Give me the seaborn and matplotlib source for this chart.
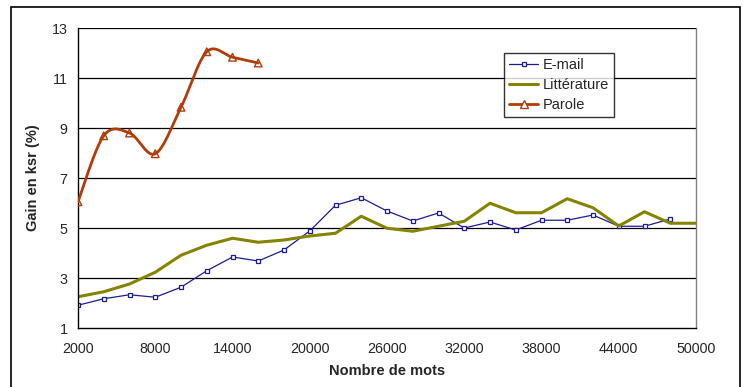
import numpy as np
import pandas as pd
import matplotlib
matplotlib.use("Agg")
import matplotlib.pyplot as plt
import seaborn as sns

# values
email_x = list(range(2000, 50000, 2000))
email_y = [1.91, 2.17, 2.33, 2.23, 2.63, 3.29, 3.84, 3.68, 4.12, 4.88, 5.91, 6.21,
           5.68, 5.28, 5.60, 5.00, 5.24, 4.92, 5.31, 5.31, 5.52, 5.07, 5.07, 5.36]

litt_x = list(range(2000, 52000, 2000))
litt_y = [2.25, 2.45, 2.76, 3.23, 3.91, 4.31, 4.59, 4.43, 4.52, 4.68, 4.79, 5.47,
          4.99, 4.87, 5.07, 5.27, 5.99, 5.61, 5.61, 6.17, 5.81, 5.08, 5.65, 5.19, 5.19]

parole_x = list(range(2000, 18000, 2000))
parole_y = [6.05, 8.69, 8.80, 7.97, 9.83, 12.05, 11.83, 11.60]

x_ticks = list(range(2000, 56000, 6000))
y_ticks = [1, 3, 5, 7, 9, 11, 13]

C_EMAIL = "#1c1c96"
C_LITT = "#848400"
C_PAROLE = "#b03c0a"


# Excel-style smoothed line (Catmull-Rom through the points)
def smooth(xs, ys, n=30):
    p = np.column_stack([xs, ys]).astype(float)
    p = np.vstack([p[0], p, p[-1]])
    out = []
    for i in range(1, len(p) - 2):
        p0, p1, p2, p3 = p[i - 1], p[i], p[i + 1], p[i + 2]
        t = np.linspace(0, 1, n)[:, None]
        seg = 0.5 * ((2 * p1) + (-p0 + p2) * t + (2 * p0 - 5 * p1 + 4 * p2 - p3) * t ** 2
                     + (-p0 + 3 * p1 - 3 * p2 + p3) * t ** 3)
        out.append(seg)
    out = np.vstack(out)
    return out[:, 0], out[:, 1]


sns.set_style("white")
plt.rcParams['font.family'] = ['Liberation Sans', 'DejaVu Sans']

fig = plt.figure(figsize=(7.46, 3.87), dpi=100)
# outer chart border
fig.patches.append(plt.Rectangle((11 / 746, -0.05), 729 / 746, 1 - 7 / 387 + 0.05,
                                 transform=fig.transFigure, fill=False,
                                 edgecolor="black", linewidth=1.2))
ax = fig.add_axes([78 / 746, 1 - 328 / 387, 618 / 746, 300 / 387])

for y in y_ticks[1:]:
    ax.axhline(y, color="black", linewidth=0.9, zorder=0)

df_email = pd.DataFrame({"x": email_x, "y": email_y})
df_litt = pd.DataFrame({"x": litt_x, "y": litt_y})
df_parole = pd.DataFrame({"x": parole_x, "y": parole_y})

sns.lineplot(data=df_email, x="x", y="y", ax=ax, color=C_EMAIL, linewidth=0.9,
             marker="s", markersize=3.5, markerfacecolor="white",
             markeredgecolor=C_EMAIL, markeredgewidth=0.9, label="E-mail")
sns.lineplot(data=df_litt, x="x", y="y", ax=ax, color=C_LITT, linewidth=2.2,
             label="Littérature")
sx, sy = smooth(parole_x, parole_y)
ax.plot(sx, sy, color=C_PAROLE, linewidth=2.0, zorder=3)
sns.scatterplot(data=df_parole, x="x", y="y", ax=ax, marker="^", s=30,
                facecolor="none", edgecolor=C_PAROLE, linewidth=1.0, zorder=4)
h_parole = plt.Line2D([], [], color=C_PAROLE, linewidth=2.0, marker="^",
                      markersize=6, markerfacecolor="white", markeredgecolor=C_PAROLE)

ax.set_xlim(2000, 50000)
ax.set_ylim(1, 13)
ax.set_xticks(x_ticks)
ax.set_xticks(list(range(2000, 52000, 2000)), minor=True)
ax.set_yticks(y_ticks)
ax.tick_params(axis="both", which="both", direction="out", length=4, width=1,
               labelsize=10.3, color="black")
ax.tick_params(axis="x", which="major", pad=6)
ax.tick_params(axis="x", which="minor", labelbottom=False)
ax.spines["top"].set_visible(False)
ax.spines["right"].set_color("#808080")
ax.spines["left"].set_color("black")
ax.spines["bottom"].set_color("black")
for s in ["left", "bottom", "right"]:
    ax.spines[s].set_linewidth(1.0)

ax.set_xlabel("Nombre de mots", fontsize=10.5, fontweight="bold", labelpad=6)
ax.set_ylabel("Gain en ksr (%)", fontsize=10.5, fontweight="bold", labelpad=8)

handles, labels = ax.get_legend_handles_labels()
handles = handles[:2] + [h_parole]
labels = ["E-mail", "Littérature", "Parole"]
leg = ax.legend(handles, labels, loc="upper left", bbox_to_anchor=(426 / 618, 275 / 300),
                frameon=True, fancybox=False, fontsize=10.5, handlelength=2.0,
                handletextpad=0.3, borderpad=0.35, labelspacing=0.4, borderaxespad=0)
leg.get_frame().set_edgecolor("black")
leg.get_frame().set_linewidth(1.0)

fig.savefig("out.png", dpi=100)
